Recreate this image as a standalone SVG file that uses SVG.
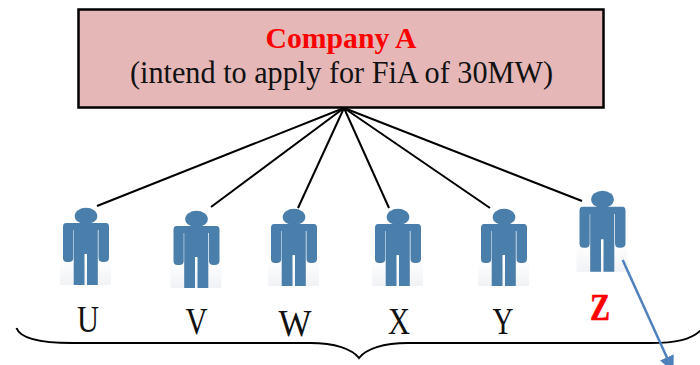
<svg xmlns="http://www.w3.org/2000/svg" width="700" height="365" viewBox="0 0 700 365">
<style>
.conn{stroke:#000;stroke-width:2;fill:none}
.t{font-family:"Liberation Serif","DejaVu Serif",serif;text-anchor:middle}
.lab{font-size:37px;fill:#111}
.body{fill:#4a7eab}
</style>
<defs>
<linearGradient id="bg" x1="0" y1="0" x2="0" y2="1"><stop offset="0.65" stop-color="#fff"/><stop offset="1" stop-color="#f0f2f5"/></linearGradient>
<marker id="ah" markerUnits="userSpaceOnUse" markerWidth="17" markerHeight="15" refX="16" refY="7.5" orient="auto"><path d="M0 0L16 7.5L0 15z" fill="#4f81bd"/></marker>
<symbol id="person" overflow="visible">
<rect x="-26" y="0" width="51" height="77" fill="url(#bg)"/>
<ellipse cx="0" cy="8" rx="11.3" ry="8.3" class="body"/>
<path class="body" d="M-20 15H20Q23 15 23 19V50Q23 54 18 54H17Q12.500 54 12.500 50V22H11.800V64V77H1V46H-1.500V77H-12.300V64V22H-12.800V50Q-12.800 54 -17 54H-19Q-23 54 -23 50V19Q-23 15 -20 15z"/>
</symbol>
</defs>
<rect width="700" height="365" fill="#fff"/>
<g id="company-a">
<rect x="78.500" y="9.500" width="525" height="98" fill="#e5b8b7" stroke="#000" stroke-width="2.500"/>
<text class="t" x="341" y="48" font-size="30" font-weight="bold" fill="#f00" textLength="151" lengthAdjust="spacingAndGlyphs">Company A</text>
<text class="t" x="341.500" y="83" font-size="31" fill="#111" textLength="423" lengthAdjust="spacingAndGlyphs">(intend to apply for FiA of 30MW)</text>
</g>
<g id="node-u"><use href="#person" x="86" y="208"/><text class="t lab" x="88" y="332" textLength="22" lengthAdjust="spacingAndGlyphs">U</text></g>
<g id="node-v"><use href="#person" x="196.500" y="211"/><text class="t lab" x="196.500" y="334" textLength="22" lengthAdjust="spacingAndGlyphs">V</text></g>
<g id="node-w"><use href="#person" x="294" y="209"/><text class="t lab" x="295" y="336" textLength="33" lengthAdjust="spacingAndGlyphs">W</text></g>
<g id="node-x"><use href="#person" x="398" y="209"/><text class="t lab" x="399" y="334" textLength="22" lengthAdjust="spacingAndGlyphs">X</text></g>
<g id="node-y"><use href="#person" x="504" y="209"/><text class="t lab" x="503" y="334" textLength="21" lengthAdjust="spacingAndGlyphs">Y</text></g>
<g id="node-z"><use href="#person" transform="translate(602.500 191) scale(1 1.05)"/><text class="t" x="600" y="320" font-size="37" font-weight="bold" fill="#f00" stroke="#f00" stroke-width="0.600" textLength="20" lengthAdjust="spacingAndGlyphs">Z</text></g>
<g id="brace"><path class="conn" d="M16.500 328C20 338 40 343 72 343H310C335 343 352 349 359 358C366 349 383 343 408 343H650C675 343 692 340 702 329"/></g>
<g id="connectors">
<line class="conn" x1="344" y1="108" x2="97" y2="206"/>
<line class="conn" x1="344" y1="108" x2="211" y2="207"/>
<line class="conn" x1="344" y1="108" x2="298" y2="208"/>
<line class="conn" x1="344" y1="108" x2="389" y2="208"/>
<line class="conn" x1="344" y1="108" x2="490" y2="208"/>
<line class="conn" x1="344" y1="108" x2="582" y2="201"/>
<path d="M622.700 260L673.500 372" stroke="#4f81bd" stroke-width="2.500" fill="none" marker-end="url(#ah)"/>
</g>
</svg>
